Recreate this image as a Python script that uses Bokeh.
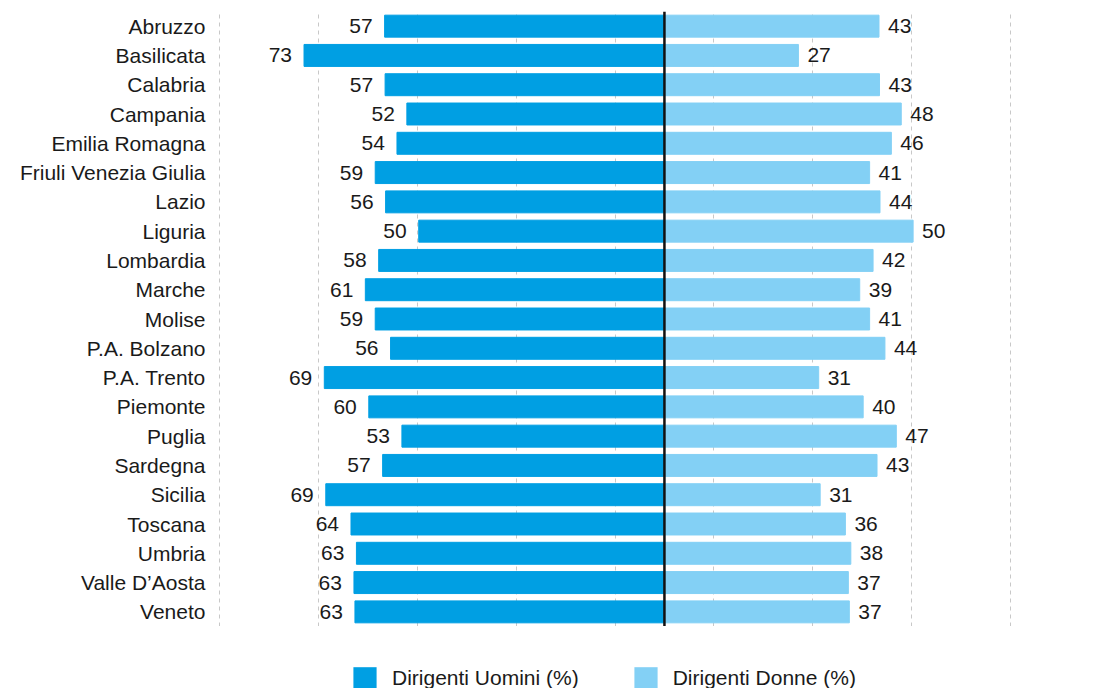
from bokeh.plotting import figure
from bokeh.layouts import column
from bokeh.models import (ColumnDataSource, FactorRange, Range1d, Span, Legend, LegendItem,
                          FixedTicker)
from bokeh.core.properties import value
from bokeh.embed import file_html
from bokeh.resources import INLINE

regions = ["Abruzzo", "Basilicata", "Calabria", "Campania", "Emilia Romagna",
           "Friuli Venezia Giulia", "Lazio", "Liguria", "Lombardia", "Marche", "Molise",
           "P.A. Bolzano", "P.A. Trento", "Piemonte", "Puglia", "Sardegna", "Sicilia",
           "Toscana", "Umbria", "Valle D\u2019Aosta", "Veneto"]
uomini = [56.6, 72.9, 56.5, 52.1, 54.1, 58.5, 56.4, 49.7, 57.8, 60.5, 58.5,
          55.4, 68.8, 59.8, 53.1, 57.0, 68.5, 63.4, 62.3, 62.8, 62.6]
donne = [43.4, 27.1, 43.5, 47.9, 45.9, 41.5, 43.6, 50.3, 42.2, 39.5, 41.5,
         44.6, 31.2, 40.2, 46.9, 43.0, 31.5, 36.6, 37.7, 37.2, 37.4]
uomini_lbl = [57, 73, 57, 52, 54, 59, 56, 50, 58, 61, 59, 56, 69, 60, 53, 57, 69, 64, 63, 63, 63]
donne_lbl = [43, 27, 43, 48, 46, 41, 44, 50, 42, 39, 41, 44, 31, 40, 47, 43, 31, 36, 38, 37, 37]
grid_ticks = [-90, -70, -50, -30, -10, 10, 30, 50, 70]
series = ["Dirigenti Uomini (%)", "Dirigenti Donne (%)"]

C_M = "#009fe3"
C_F = "#83d0f5"
TXT = "#1a1a1a"
FONT = "Liberation Sans"
FS = "21px"

src = ColumnDataSource(dict(
    region=regions,
    m_left=[-v for v in uomini],
    zero=[0] * len(regions),
    f_right=donne,
    m_lbl=[str(v) for v in uomini_lbl],
    f_lbl=[str(v) for v in donne_lbl],
))

p = figure(width=1095, height=626, output_backend="svg", toolbar_location=None,
           y_range=FactorRange(factors=list(reversed(regions)), range_padding=0),
           x_range=Range1d(-90.2, 70.2),
           min_border_left=218, min_border_right=84, min_border_top=11, min_border_bottom=0)

p.hbar(y="region", left="m_left", right="zero", height=0.75, color=C_M, source=src)
p.hbar(y="region", left="zero", right="f_right", height=0.75, color=C_F, source=src)

p.text(x="m_left", y="region", text="m_lbl", source=src, x_offset=-12,
       text_align="right", text_baseline="middle", text_font=value(FONT),
       text_font_size=FS, text_color=TXT)
p.text(x="f_right", y="region", text="f_lbl", source=src, x_offset=9,
       text_align="left", text_baseline="middle", text_font=value(FONT),
       text_font_size=FS, text_color=TXT)

p.add_layout(Span(location=0, dimension="height", line_color="#111111", line_width=2.5))

p.xaxis.visible = False
p.xgrid.ticker = FixedTicker(ticks=grid_ticks)
p.xgrid.grid_line_color = "#c8c8c8"
p.xgrid.grid_line_dash = "4 4"
p.xgrid.grid_line_width = 1
p.ygrid.grid_line_color = None

ax = p.yaxis[0]
ax.axis_line_color = None
ax.major_tick_line_color = None
ax.minor_tick_line_color = None
ax.major_tick_out = 0
ax.major_tick_in = 0
ax.major_label_text_font = FONT
ax.major_label_text_font_size = FS
ax.major_label_text_color = TXT
ax.major_label_standoff = 13

p.outline_line_color = None

# legend strip below the chart (its frame is aligned with the chart's frame)
lg = figure(width=1095, height=62, output_backend="svg", toolbar_location=None,
            x_range=Range1d(0, 1), y_range=Range1d(0, 1),
            min_border_left=218, min_border_right=84, min_border_top=0, min_border_bottom=0)
lg.xaxis.visible = False
lg.yaxis.visible = False
lg.grid.visible = False
lg.outline_line_color = None
# zero-area quads: they only provide the legend swatches
swatch = ColumnDataSource(dict(l=[0], r=[0], b=[0], t=[0]))
g_m = lg.quad(left="l", right="r", bottom="b", top="t", fill_color=C_M, line_color=None, source=swatch)
g_f = lg.quad(left="l", right="r", bottom="b", top="t", fill_color=C_F, line_color=None, source=swatch)

legend = Legend(items=[LegendItem(label=series[0], renderers=[g_m]),
                       LegendItem(label=series[1], renderers=[g_f])],
                orientation="horizontal", location=(132, -3),
                glyph_width=29, glyph_height=27, label_standoff=13, spacing=52,
                padding=0, margin=0, border_line_color=None, background_fill_alpha=0,
                label_text_font=FONT, label_text_font_size=FS,
                label_text_color=TXT, label_height=27, label_text_baseline="middle")
lg.add_layout(legend)

layout = column(p, lg, spacing=0)
open("out.html", "w").write(file_html(layout, INLINE))
